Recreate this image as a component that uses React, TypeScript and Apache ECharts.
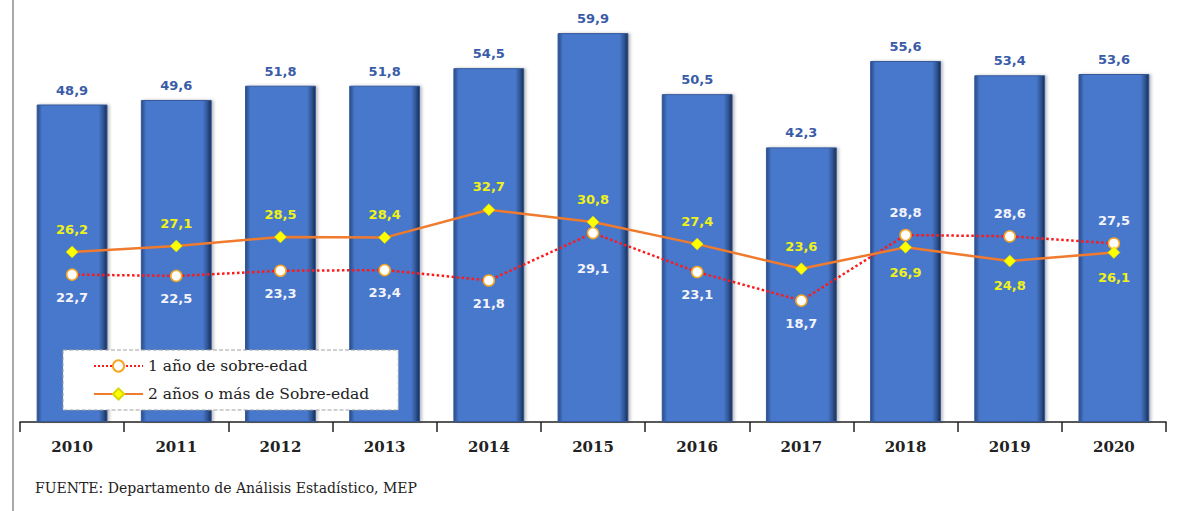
import React, { useEffect, useRef } from "react";
import * as echarts from "echarts";

const years = ["2010", "2011", "2012", "2013", "2014", "2015", "2016", "2017", "2018", "2019", "2020"];
const totalValues = [48.9, 49.6, 51.8, 51.8, 54.5, 59.9, 50.5, 42.3, 55.6, 53.4, 53.6];
const oneYearValues = [22.7, 22.5, 23.3, 23.4, 21.8, 29.1, 23.1, 18.7, 28.8, 28.6, 27.5];
const twoYearValues = [26.2, 27.1, 28.5, 28.4, 32.7, 30.8, 27.4, 23.6, 26.9, 24.8, 26.1];
const oneYearLabelAbove = [8, 9, 10];
const twoYearLabelBelow = [8, 9, 10];
const seriesNames = ["1 año de sobre-edad", "2 años o más de Sobre-edad"];
const sourceText = "FUENTE: Departamento de Análisis Estadístico, MEP";

const fmt = (v: number) => v.toFixed(1).replace(".", ",");

export default function App() {
  const ref = useRef<HTMLDivElement>(null);
  useEffect(() => {
    document.body.style.margin = "0";
    const chart = echarts.init(ref.current!, null, { renderer: "svg" });
    const labelFont = { fontFamily: "DejaVu Sans", fontWeight: "bold" as const, fontSize: 13 };
    chart.setOption({
      animation: false,
      backgroundColor: "#ffffff",
      grid: { left: 20, right: 11, top: 0, bottom: 89 },
      legend: {
        orient: "vertical",
        left: 63,
        top: 350,
        padding: [8, 29, 8, 30],
        itemGap: 12,
        itemWidth: 49,
        itemHeight: 14,
        backgroundColor: "#ffffff",
        borderColor: "#a0a0a0",
        borderWidth: 1,
        borderType: "dashed",
        borderRadius: 0,
        textStyle: { fontFamily: "DejaVu Serif", fontSize: 15.5, color: "#222" },
        data: seriesNames,
      },
      xAxis: {
        type: "category",
        data: years,
        axisLine: { lineStyle: { color: "#222", width: 1.5 } },
        axisTick: { show: true, length: 10, lineStyle: { color: "#222", width: 1.5 } },
        axisLabel: {
          fontFamily: "DejaVu Serif",
          fontWeight: "bold",
          fontSize: 15,
          color: "#222",
          margin: 17,
        },
      },
      yAxis: {
        type: "value",
        min: 0,
        max: 65,
        show: false,
        splitLine: { show: false },
      },
      graphic: [
        {
          type: "line",
          shape: { x1: 13, y1: 0, x2: 13, y2: 511 },
          style: { stroke: "#8c8c8c", lineWidth: 1.5 },
        },
        {
          type: "text",
          left: 35,
          top: 481,
          style: {
            text: sourceText,
            fontFamily: "DejaVu Serif",
            fontSize: 14,
            fill: "#222",
          },
        },
      ],
      series: [
        {
          type: "bar",
          data: totalValues,
          barWidth: "68%",
          itemStyle: {
            color: new echarts.graphic.LinearGradient(0, 0, 1, 0, [
              { offset: 0, color: "#2a4a86" },
              { offset: 0.07, color: "#4778cc" },
              { offset: 0.88, color: "#4778cc" },
              { offset: 0.95, color: "#2f528f" },
              { offset: 1, color: "#172b50" },
            ]),
            borderColor: "#34589a",
            borderWidth: 1,
            shadowColor: "rgba(0,0,0,0.25)",
            shadowBlur: 3,
            shadowOffsetX: 2,
          },
          label: {
            show: true,
            position: "top",
            distance: 8,
            color: "#3a5ca8",
            formatter: (p: any) => fmt(p.value),
            ...labelFont,
          },
          z: 1,
        },
        {
          name: seriesNames[0],
          type: "line",
          data: oneYearValues.map((v, i) =>
            oneYearLabelAbove.includes(i)
              ? { value: v, label: { position: "top" } }
              : i === 5
              ? { value: v, label: { distance: 23 } }
              : v
          ),
          lineStyle: { color: "#ff1a1a", width: 2.5, type: "dotted" },
          itemStyle: { color: "#ffffff", borderColor: "#f5a623", borderWidth: 1.5 },
          symbol: "circle",
          symbolSize: 11,
          label: {
            show: true,
            position: "bottom",
            distance: 10,
            color: "#f4f4fa",
            formatter: (p: any) => fmt(p.value),
            ...labelFont,
          },
          z: 3,
        },
        {
          name: seriesNames[1],
          type: "line",
          data: twoYearValues.map((v, i) =>
            twoYearLabelBelow.includes(i) ? { value: v, label: { position: "bottom", distance: 12 } } : v
          ),
          lineStyle: { color: "#f07b2e", width: 2.5, type: "solid" },
          itemStyle: { color: "#ffff00", borderColor: "#d8d800", borderWidth: 0.5 },
          symbol: "diamond",
          symbolSize: 12,
          label: {
            show: true,
            position: "top",
            distance: 10,
            color: "#eef21a",
            formatter: (p: any) => fmt(p.value),
            ...labelFont,
          },
          z: 4,
        },
      ],
    });
    return () => chart.dispose();
  }, []);
  return <div ref={ref} style={{ width: 1177, height: 511 }} />;
}
